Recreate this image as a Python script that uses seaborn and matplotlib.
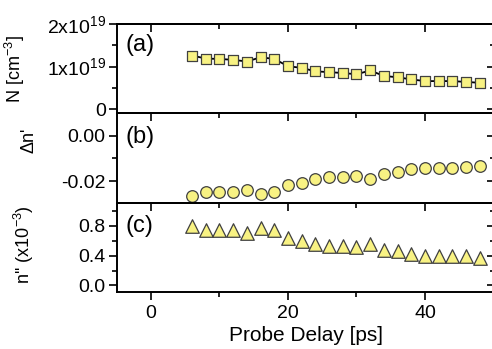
import numpy as np
import pandas as pd
import matplotlib
matplotlib.use("Agg")
import matplotlib.pyplot as plt
from matplotlib.ticker import MultipleLocator, FixedLocator, FuncFormatter
import seaborn as sns

# probe delay [ps]
delay = [6, 8, 10, 12, 14, 16, 18, 20, 22, 24, 26, 28, 30, 32, 34, 36, 38, 40, 42, 44, 46, 48]

# (a) carrier density, in units of 1e19 cm^-3
density = [1.26, 1.19, 1.18, 1.16, 1.12, 1.22, 1.18, 1.01, 0.97, 0.89, 0.87, 0.85,
           0.82, 0.91, 0.78, 0.75, 0.70, 0.66, 0.66, 0.66, 0.64, 0.62]

# (b) change of refractive index
dn_real = [-0.0265, -0.0247, -0.0247, -0.0247, -0.0239, -0.0257, -0.0249, -0.0217,
           -0.0207, -0.0191, -0.0184, -0.0183, -0.0177, -0.0190, -0.0170, -0.0162,
           -0.0148, -0.0142, -0.0142, -0.0142, -0.0140, -0.0135]

# (c) imaginary part, x1e-3
n_imag = [0.80, 0.74, 0.74, 0.74, 0.71, 0.77, 0.74, 0.64, 0.60, 0.56, 0.53, 0.53,
          0.51, 0.56, 0.48, 0.46, 0.42, 0.40, 0.40, 0.40, 0.40, 0.37]

df = pd.DataFrame({"delay": delay, "density": density, "dn": dn_real, "nimag": n_imag})

sns.set_style("ticks")
plt.rcParams["font.family"] = ["Liberation Sans", "DejaVu Sans"]
plt.rcParams["mathtext.default"] = "regular"
plt.rcParams["axes.linewidth"] = 1.4
for k in ("text.color", "axes.labelcolor", "xtick.color", "ytick.color", "axes.edgecolor"):
    plt.rcParams[k] = "black"

fill = "#f8f283"
edge = "#404040"

fig = plt.figure(figsize=(4.92, 3.49), dpi=100)
left, width = 0.2373, 0.7688
bottom, top = 0.163, 0.931
h = (top - bottom) / 3
axes = [fig.add_axes([left, bottom + (2 - i) * h, width, h]) for i in range(3)]
ax_a, ax_b, ax_c = axes

# (a)
sns.lineplot(data=df, x="delay", y="density", ax=ax_a, color="black", lw=1.3, zorder=2)
sns.scatterplot(data=df, x="delay", y="density", ax=ax_a, marker="s", s=55,
                color=fill, edgecolor=edge, linewidth=0.9, zorder=3)
ax_a.set_ylim(-0.1, 2.0)
ax_a.yaxis.set_major_locator(FixedLocator([0, 1, 2]))
ax_a.yaxis.set_minor_locator(FixedLocator([0.5, 1.5]))
ax_a.yaxis.set_major_formatter(FuncFormatter(
    lambda v, p: "0" if abs(v) < 1e-9 else "%dx10$^{19}$" % round(v)))
ax_a.set_ylabel("N [cm$^{-3}$]", fontsize=13)
ax_a.yaxis.set_label_coords(-0.238, 0.5)

# (b)
sns.scatterplot(data=df, x="delay", y="dn", ax=ax_b, marker="o", s=70,
                color=fill, edgecolor=edge, linewidth=0.9, zorder=3)
ax_b.set_ylim(-0.0295, 0.0097)
ax_b.yaxis.set_major_locator(FixedLocator([-0.02, 0.0]))
ax_b.yaxis.set_minor_locator(FixedLocator([-0.01]))
ax_b.yaxis.set_major_formatter(FuncFormatter(lambda v, p: "%.2f" % v if abs(v) > 1e-9 else "0.00"))
ax_b.set_ylabel("Δn'", fontsize=13)
ax_b.yaxis.set_label_coords(-0.209, 0.7)

# (c)
sns.scatterplot(data=df, x="delay", y="nimag", ax=ax_c, marker="^", s=95,
                color=fill, edgecolor=edge, linewidth=0.9, zorder=3)
ax_c.set_ylim(-0.09, 1.11)
ax_c.yaxis.set_major_locator(FixedLocator([0.0, 0.4, 0.8]))
ax_c.yaxis.set_minor_locator(FixedLocator([0.2, 0.6, 1.0]))
ax_c.yaxis.set_major_formatter(FuncFormatter(lambda v, p: "%.1f" % v))
ax_c.set_ylabel("n'' (x10$^{-3}$)", fontsize=13)
ax_c.yaxis.set_label_coords(-0.214, 0.53)
ax_c.set_xlabel("Probe Delay [ps]", fontsize=15, labelpad=2.5)

for ax, lab, ly in zip(axes, ["(a)", "(b)", "(c)"], [0.77, 0.74, 0.74]):
    ax.set_xlim(-5, 50.22)
    ax.xaxis.set_major_locator(MultipleLocator(20))
    ax.xaxis.set_minor_locator(MultipleLocator(10))
    for s in ax.spines.values():
        s.set_visible(True)
        s.set_linewidth(1.4)
    ax.tick_params(axis="both", which="both", labelsize=14, width=1.2)
    ax.tick_params(axis="y", which="major", direction="out", length=6, left=True, right=False, pad=2)
    ax.tick_params(axis="y", which="minor", direction="out", length=3.5, left=True)
    if ax is ax_c:
        ax.tick_params(axis="x", which="both", bottom=True, top=False, direction="out")
        ax.tick_params(axis="x", which="major", length=6)
        ax.tick_params(axis="x", which="minor", length=3.5)
    else:
        ax.tick_params(axis="x", which="both", bottom=False, top=False, labelbottom=False)
        ax.set_xlabel("")
    # inward ticks on the top spine
    sx = ax.secondary_xaxis("top")
    sx.xaxis.set_major_locator(MultipleLocator(20))
    sx.xaxis.set_minor_locator(MultipleLocator(10))
    sx.tick_params(which="major", direction="in", length=6, width=1.2, labeltop=False)
    sx.tick_params(which="minor", direction="in", length=3.5, width=1.2)
    # inward ticks on the right-hand spine
    sy = ax.secondary_yaxis("right")
    sy.yaxis.set_major_locator(ax.yaxis.get_major_locator())
    sy.yaxis.set_minor_locator(ax.yaxis.get_minor_locator())
    sy.tick_params(which="major", direction="in", length=6, width=1.2, labelright=False)
    sy.tick_params(which="minor", direction="in", length=3.5, width=1.2)
    ax.text(0.022, ly, lab, transform=ax.transAxes, fontsize=17, va="center", ha="left")

fig.savefig("out.png", dpi=100)
